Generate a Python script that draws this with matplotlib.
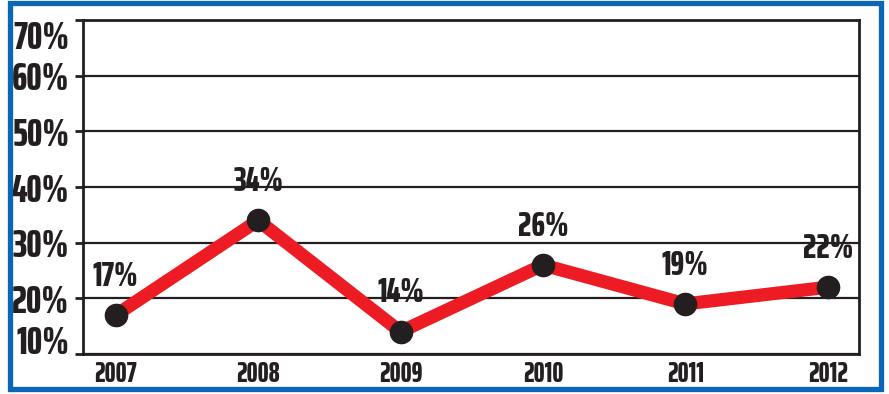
import matplotlib.pyplot as plt
from matplotlib.patches import Rectangle

# growth rate by year
years = [2007, 2008, 2009, 2010, 2011, 2012]
rates = [17, 34, 14, 26, 19, 22]
yticks = [10, 20, 30, 40, 50, 60, 70]
ytick_labels = ["10%", "20%", "30%", "40%", "50%", "60%", "70%"]

ink = "#231f20"
red = "#ed1c24"
blue = "#0b67b6"
font = ["Saira ExtraCondensed", "DejaVu Sans"]

fig = plt.figure(figsize=(8.89, 3.94), dpi=100)
ax = fig.add_axes([0.0934, 0.1015, 0.8729, 0.8475])

# outer blue frame
fig.patches.append(Rectangle((9.5 / 889, 5 / 394), 871 / 889, 386 / 394,
                             transform=fig.transFigure, fill=False,
                             edgecolor=blue, linewidth=3.8))

ax.plot(years, rates, color=red, linewidth=9.5, solid_capstyle="butt",
        zorder=3)
ax.plot(years, rates, "o", color=ink, markersize=16, zorder=4)

for x, v in zip(years, rates):
    ax.annotate(f"{v}%", (x, v), xytext=(0, 28), textcoords="offset points",
                ha="center", va="center", fontsize=25, fontweight="heavy",
                family=font, color=ink, zorder=5)

ax.set_xlim(2006.77, 2012.22)
ax.set_ylim(10, 70)
ax.set_xticks(years)
ax.set_xticklabels([str(y) for y in years], fontsize=20, fontweight="heavy",
                   family=font, color=ink)
ax.set_yticks(yticks)
ax.set_yticklabels(ytick_labels, fontsize=28, fontweight="heavy",
                   family=font, color=ink)
ax.tick_params(axis="x", length=0, pad=4)
ax.tick_params(axis="y", length=6, width=2, color=ink, pad=4)

labels = ax.get_yticklabels()
labels[0].set_va("baseline")
labels[-1].set_va("top")

ax.grid(axis="y", color=ink, linewidth=1.6)
ax.set_axisbelow(True)
for s in ax.spines.values():
    s.set_color(ink)
    s.set_linewidth(2)

fig.savefig("out.png", dpi=100)
